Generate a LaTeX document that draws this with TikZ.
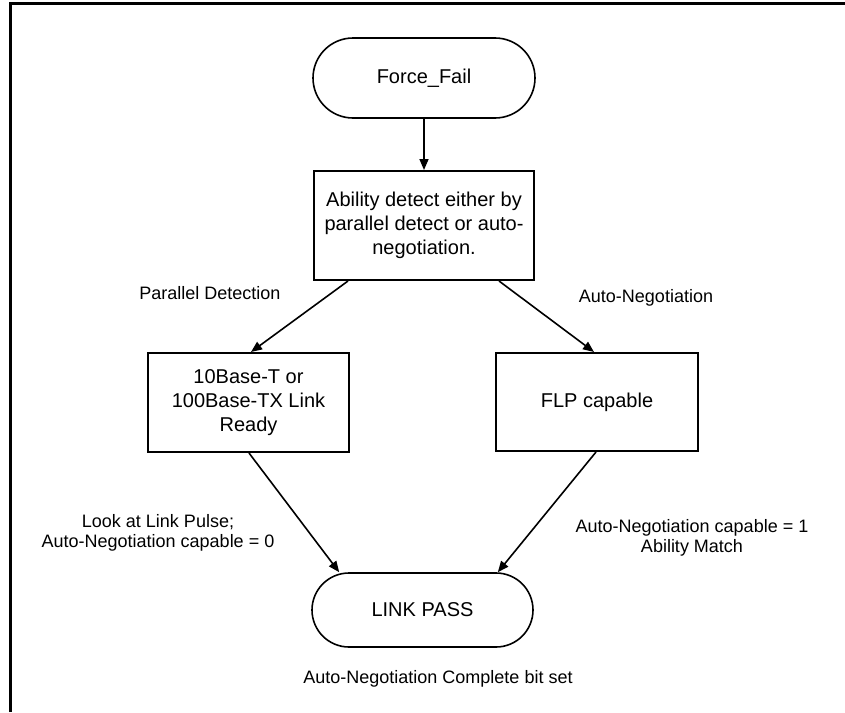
\documentclass[tikz,border=0pt]{standalone}
\usepackage{fontspec}
\setmainfont{Liberation Sans}
\usetikzlibrary{arrows.meta}
\begin{document}
\begin{tikzpicture}[x=1pt,y=-1pt,
  box/.style={draw,line width=2pt,align=center,inner sep=0pt,font=\fontsize{20}{24}\selectfont},
  term/.style={draw,line width=1.6pt,align=center,inner sep=0pt,font=\fontsize{20}{24}\selectfont},
  lbl/.style={align=center,inner sep=0pt,font=\fontsize{18}{19.5}\selectfont},
  arr/.style={line width=1.6pt,-{Triangle[length=11pt,width=9pt]}}]
\useasboundingbox (0,0) rectangle (845,712);
\draw[line width=3pt] (10,712) -- (10,3) -- (845,3);

\node[term,minimum width=222pt,minimum height=80pt,rounded corners=40pt] (ff) at (424,78) {Force\_Fail};
\node[box,minimum width=220pt,minimum height=109pt] (ab) at (424,225.5) {Ability detect either by\\parallel detect or auto-\\negotiation.};
\node[box,minimum width=201pt,minimum height=99pt] (tb) at (248.5,402.5) {10Base-T or\\100Base-TX Link\\Ready};
\node[box,minimum width=202pt,minimum height=98pt] (flp) at (597,402) {FLP capable};
\node[term,minimum width=221pt,minimum height=74pt,rounded corners=37pt] (lp) at (422.5,610) {LINK PASS};

\draw[arr] (ff.south) -- (ab.north);
\draw[arr] ([xshift=35pt]ab.south west) -- ([xshift=104pt]tb.north west);
\draw[arr] ([xshift=-36pt]ab.south east) -- ([xshift=99pt]flp.north west);
\draw[arr] ([xshift=102pt]tb.south west) -- ([xshift=28pt]lp.north west);
\draw[arr] ([xshift=101pt]flp.south west) -- ([xshift=-36pt]lp.north east);

\node[lbl] (pd) at (210,293) {Parallel Detection};
\node[lbl] (an) at (646,298) {Auto-Negotiation};
\node[lbl] (lk) at (158,533) {Look at Link Pulse;\\Auto-Negotiation capable = 0};
\node[lbl] (am) at (692,538) {Auto-Negotiation capable = 1\\Ability Match};
\node[lbl] (cb) at (438,679) {Auto-Negotiation Complete bit set};
\end{tikzpicture}
\end{document}
